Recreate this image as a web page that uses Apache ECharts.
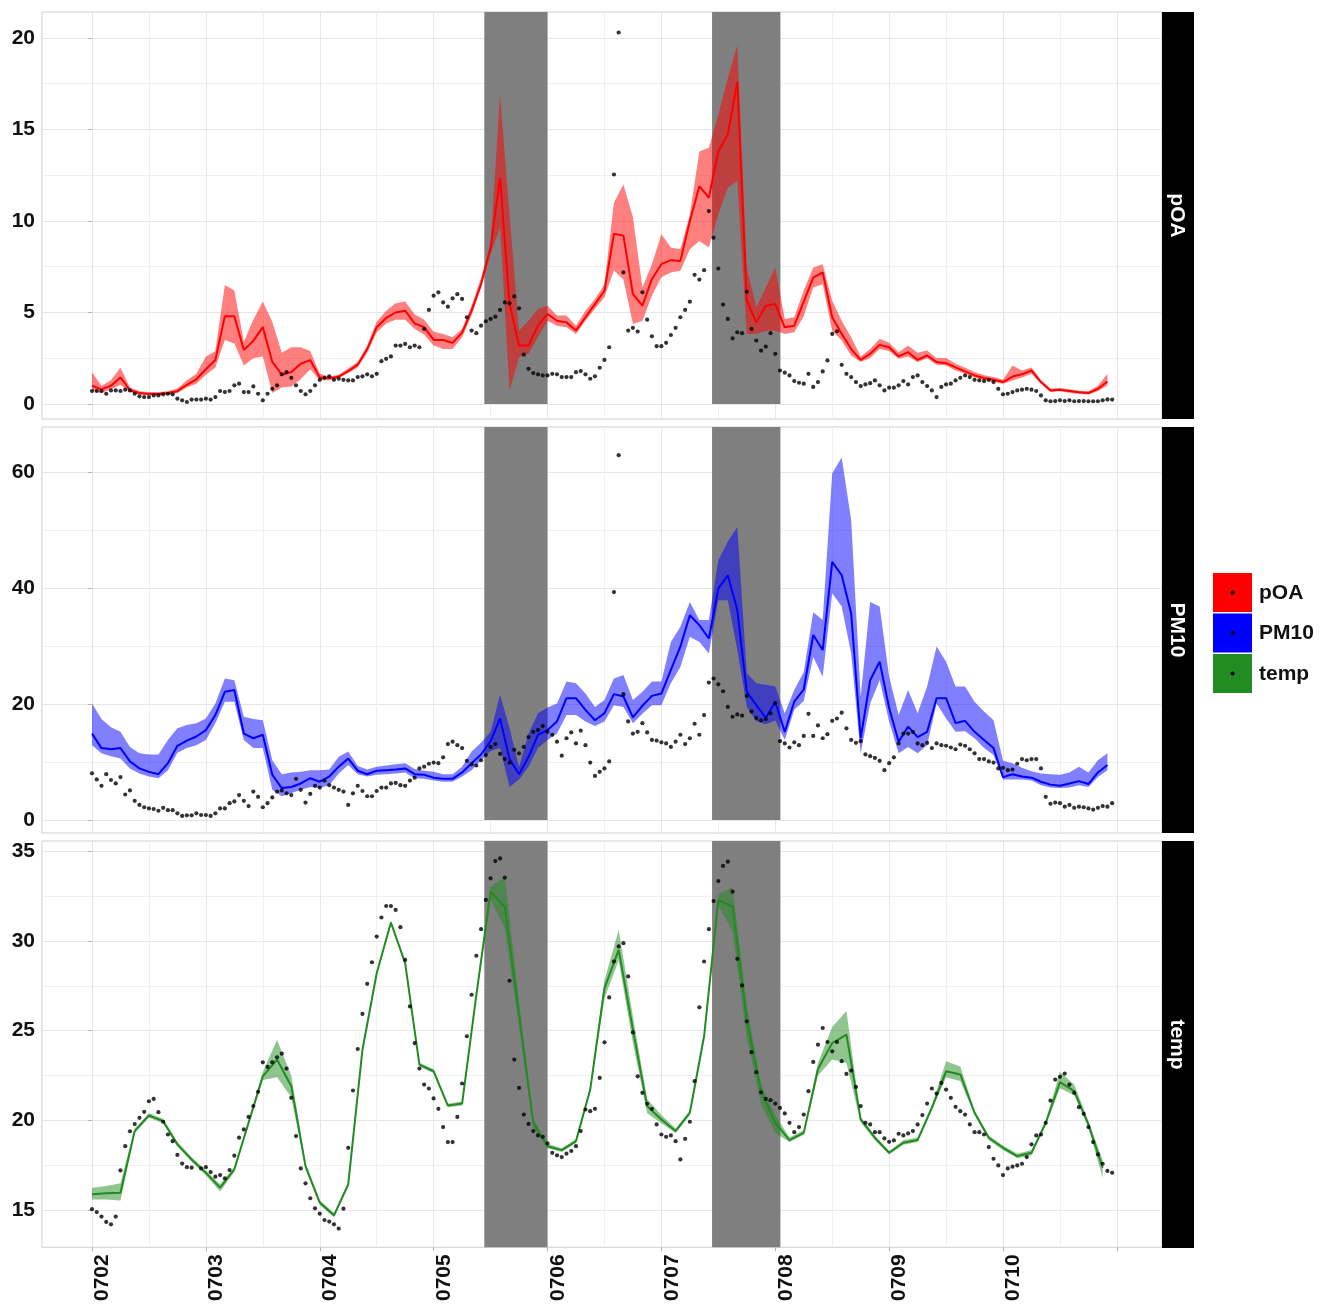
<!DOCTYPE html>
<html>
<head>
<meta charset="utf-8">
<script src="https://cdn.jsdelivr.net/npm/echarts@6.0.0/dist/echarts.min.js"></script>
<style>
  html, body { margin: 0; padding: 0; background: #fff; }
  #chart { width: 1320px; height: 1304px; }
</style>
</head>
<body>
<div id="chart"></div>
<script>
// x labels (day 0 = 0702) and the two shaded periods, in days
const dayLabels = ['0702', '0703', '0704', '0705', '0706', '0707', '0708', '0709', '0710'];
const shadeSpans = [[3.445, 4.0], [5.445, 6.045]];

// y tick labels per panel
const poaTicks = [0, 5, 10, 15, 20];
const pm10Ticks = [0, 20, 40, 60];
const tempTicks = [15, 20, 25, 30, 35];

// hourly observations (null = missing)
const poaDots = [
  0.71, 0.71, 0.71, 0.56, 0.74, 0.74, 0.71, 0.78, 0.74, 0.56,
  0.42, 0.38, 0.38, 0.47, 0.47, 0.53, 0.56, 0.53, 0.29, 0.2,
  0.11, 0.24, 0.24, 0.24, 0.29, 0.24, 0.38, 0.71, 0.65, 0.71,
  1.02, 1.11, 0.65, 0.65, 0.96, 0.56, 0.2, 0.56, 0.83, 1.02,
  1.62, 1.74, 1.43, 1.02, 0.71, 0.53, 0.71, 1.02, 1.32, 1.43,
  1.51, 1.32, 1.38, 1.32, 1.29, 1.29, 1.47, 1.51, 1.62, 1.51,
  1.65, 2.34, 2.47, 2.6, 3.19, 3.19, 3.28, 3.1, 3.19, 3.1,
  4.1, 5.14, 5.92, 6.1, 5.55, 5.32, 5.77, 6.0, 5.74, 4.74,
  4.01, 3.87, 4.28, 4.52, 4.65, 4.77, 5.14, 5.55, 5.5, 5.88,
  5.23, 2.7, 1.92, 1.69, 1.62, 1.56, 1.56, 1.65, 1.62, 1.47,
  1.47, 1.47, 1.74, 1.8, 1.62, 1.38, 1.51, 1.98, 2.41, 3.1,
  12.54, 20.3, 7.19, 4.01, 4.16, 3.96, 6.1, 4.61, 3.7, 3.16,
  3.16, 3.34, 3.77, 4.16, 4.74, 5.14, 5.59, 7.06, 6.8, 7.31,
  10.54, 9.09, 7.4, 5.43, 4.65, 3.59, 3.92, 3.87, 6.13, 4.1,
  3.47, 2.92, 3.14, 3.87, 2.74, 1.83, 1.71, 1.56, 1.25, 1.16,
  1.11, 1.65, 0.93, 1.2, 1.78, 2.38, 3.83, 3.97, 2.14, 1.65,
  1.47, 1.2, 0.98, 1.07, 1.14, 1.29, 1.02, 0.74, 0.89, 0.89,
  1.02, 1.25, 1.07, 1.47, 1.56, 1.2, 0.98, 0.74, 0.38, 0.93,
  1.07, 1.11, 1.29, 1.43, 1.56, 1.47, 1.32, 1.29, 1.25, 1.32,
  1.2, 0.83, 0.53, 0.56, 0.65, 0.74, 0.78, 0.83, 0.78, 0.71,
  0.47, 0.2, 0.15, 0.16, 0.2, 0.16, 0.2, 0.15, 0.16, 0.16,
  0.15, 0.15, 0.15, 0.2, 0.25, 0.24
];
const pm10Dots = [
  8.05, 7.0, 5.9, 7.9, 6.9, 6.3, 7.4, 4.4, 5.1, 3.3,
  2.6, 2.2, 2.0, 1.9, 1.6, 2.1, 1.7, 1.7, 1.15, 0.7,
  0.8, 0.8, 1.15, 0.86, 0.86, 0.7, 1.15, 2.0, 2.0, 2.9,
  3.2, 4.3, 3.3, 2.4, 4.9, 4.0, 2.2, 2.9, 3.9, 4.9,
  5.1, 4.6, 4.3, 7.1, 5.2, 3.0, 4.5, 5.9, 5.6, 6.8,
  6.0, 5.6, 5.2, 4.9, 2.6, 4.6, 5.9, 5.0, 4.1, 4.1,
  5.0, 5.6, 5.6, 6.3, 6.4, 6.0, 5.9, 6.8, 7.3, 8.9,
  9.2, 9.7, 9.9, 9.8, 10.8, 13.1, 13.5, 12.9, 12.4, 10.2,
  9.6, 9.4, 10.3, 11.2, 12.6, 13.1, 11.4, 10.5, 9.9, 12.1,
  11.5, 12.6, 14.3, 15.2, 15.5, 16.2, 15.2, 14.7, 13.5, 11.1,
  14.1, 15.1, 13.2, 15.4, 12.9, 9.9, 7.6, 8.3, 8.9, 10.1,
  39.3, 62.9, 21.7, 17.0, 14.9, 15.2, 16.7, 15.1, 13.8, 13.7,
  13.4, 13.2, 12.6, 13.5, 14.7, 13.1, 14.1, 16.6, 14.7, 18.1,
  23.7, 24.4, 23.4, 22.2, 19.5, 17.8, 18.2, 18.0, 21.4, 18.7,
  17.6, 17.2, 17.4, 18.4, 20.1, 13.6, 13.2, 12.5, 13.4, 12.9,
  14.5, 18.3, 14.5, 16.3, 14.1, 14.8, 17.1, 17.5, 18.5, 15.8,
  13.8, 13.3, 13.6, 11.3, 11.0, 10.7, 10.2, 8.6, 9.8, 10.8,
  13.2, 14.9, 14.9, 15.2, 13.2, 12.9, 13.3, 12.4, 13.2, 12.9,
  12.8, 12.5, 12.2, 13.0, 12.8, 12.2, 11.5, 10.5, 10.5, 10.1,
  9.9, 8.9, 9.0, 8.6, 8.7, 9.7, 10.5, 10.3, 10.5, 10.5,
  8.9, 4.0, 2.8, 3.0, 2.9, 2.3, 2.6, 2.1, 2.3, 2.2,
  2.0, 1.8, 2.1, 2.4, 2.3, 2.9
];
const tempDots = [
  15.06, 14.9, 14.65, 14.35, 14.22, 14.65, 17.22, 18.57, 19.4, 19.8,
  20.15, 20.48, 21.07, 21.2, 20.46, 19.93, 19.22, 18.85, 18.08, 17.6,
  17.4, 17.37, null, 17.33, 17.4, 17.13, 16.87, 16.96, 16.78, 17.24,
  18.04, 19.04, 19.5, 20.2, 20.8, 21.6, 23.24, 22.98, 23.24, 23.52,
  23.72, 22.89, 21.26, 19.13, 17.33, 16.5, 15.67, 15.11, 14.81, 14.46,
  14.37, 14.22, 13.98, 15.09, 18.48, 21.67, 23.98, 25.93, 27.61, 28.81,
  30.24, 31.3, 31.94, 31.94, 31.72, 30.76, 28.94, 26.35, 24.31, 22.89,
  22.0, 21.78, 21.23, 20.65, 19.63, 18.8, 18.8, 20.2, 22.06, 24.69,
  27.0, 29.17, 30.65, 32.28, 33.48, 34.44, 34.59, 33.52, 27.78, 23.39,
  21.81, 20.33, 19.81, 19.41, 19.17, 19.09, 18.72, 18.2, 18.06, 17.96,
  18.15, 18.3, 18.57, 19.41, 20.61, 20.52, 20.65, 22.37, 24.35, 26.85,
  28.85, 29.69, 29.87, 28.02, 24.91, 22.46, 21.54, 20.93, 20.65, 19.78,
  19.22, 19.09, 19.17, 18.85, 17.83, 18.98, 19.93, 22.19, 26.3, 28.85,
  30.65, 32.22, 33.33, 34.17, 34.41, 32.74, 29.0, 27.52, 25.52, 23.8,
  22.69, 21.57, 21.2, 21.13, 20.94, 20.7, 20.39, 19.87, 19.35, 19.63,
  20.33, 21.63, 23.26, 24.22, 25.15, 24.37, 23.85, 24.37, 23.3, 22.59,
  22.78, 21.87, 20.8, 19.87, 19.78, 19.35, 19.35, 19.0, 18.81, 18.89,
  19.26, 19.17, 19.28, 19.41, 19.78, 20.3, 20.94, 21.78, 21.5, 22.09,
  21.72, 21.26, 20.76, 20.52, 20.33, 19.78, 19.35, 19.35, 19.22, 18.52,
  17.87, 17.5, 16.96, 17.33, 17.43, 17.5, 17.59, 17.96, 18.67, 19.17,
  19.22, 19.87, 21.11, 22.28, 22.43, 22.61, 22.0, 21.54, 20.74, 20.37,
  19.63, 18.8, 18.11, 17.59, 17.19, 17.09
];

// model fit every 2 hours (pOA, PM10) and every 3 hours (temp)
const poaMean = [
  1.0, 0.8, 1.0, 1.45, 0.75, 0.6, 0.55, 0.55, 0.6, 0.7,
  1.05, 1.35, 1.9, 2.4, 4.8, 4.8, 2.95, 3.45, 4.2, 2.3,
  1.6, 1.75, 2.2, 2.4, 1.45, 1.4, 1.5, 1.8, 2.15, 3.0,
  4.2, 4.7, 5.0, 5.1, 4.4, 4.2, 3.5, 3.5, 3.34, 3.9,
  5.1, 6.55, 8.55, 12.36, 5.46, 3.19, 3.2, 4.28, 4.92, 4.55,
  4.46, 4.01, 4.74, 5.46, 6.19, 9.3, 9.2, 6.0, 5.37, 6.82,
  7.64, 7.86, 7.82, 10.0, 11.9, 11.27, 13.81, 14.72, 17.6, 5.64,
  4.46, 5.37, 5.46, 4.19, 4.28, 5.6, 6.9, 7.19, 4.74, 3.83,
  3.0, 2.41, 2.74, 3.23, 3.1, 2.6, 2.83, 2.41, 2.65, 2.29,
  2.23, 2.0, 1.78, 1.56, 1.42, 1.32, 1.2, 1.5, 1.62, 1.83,
  1.2, 0.74, 0.78, 0.71, 0.64, 0.6, 0.83, 1.23
];
const poaHigh = [
  1.74, 1.0, 1.3, 2.0, 0.9, 0.7, 0.65, 0.65, 0.7, 0.85,
  1.3, 1.65, 2.6, 2.9, 6.5, 6.2, 3.4, 4.6, 5.6, 4.5,
  2.8, 3.1, 3.1, 2.9, 1.65, 1.5, 1.6, 1.95, 2.3, 3.2,
  4.5, 5.1, 5.5, 5.6, 4.9, 4.6, 3.95, 3.83, 3.65, 4.1,
  5.37, 6.9, 8.73, 16.9, 10.36, 4.0, 4.55, 5.19, 5.37, 4.83,
  4.83, 4.28, 5.1, 5.74, 6.55, 11.0, 12.0, 10.2, 6.37, 7.64,
  9.27, 8.55, 8.46, 10.36, 13.8, 14.0, 15.8, 17.8, 19.6, 7.46,
  5.28, 6.37, 7.46, 4.65, 4.74, 6.2, 7.46, 7.64, 5.64, 4.55,
  3.65, 2.6, 3.0, 3.56, 3.35, 2.83, 3.19, 2.8, 2.92, 2.5,
  2.52, 2.2, 1.98, 1.75, 1.57, 1.47, 1.33, 2.1, 1.83, 2.0,
  1.3, 0.85, 0.87, 0.8, 0.73, 0.7, 1.0, 1.65
];
const poaLow = [
  0.74, 0.6, 0.8, 1.05, 0.65, 0.5, 0.48, 0.48, 0.5, 0.6,
  0.9, 1.1, 1.6, 2.0, 3.5, 3.3, 2.1, 2.5, 2.6, 0.6,
  0.9, 0.95, 1.35, 1.9, 1.3, 1.3, 1.4, 1.7, 2.0, 2.8,
  3.9, 4.4, 4.6, 4.6, 4.1, 3.8, 3.2, 3.0, 3.0, 3.65,
  4.83, 6.37, 8.18, 9.64, 0.74, 2.56, 2.74, 3.65, 4.55, 4.28,
  4.2, 3.83, 4.55, 5.2, 5.83, 7.3, 6.8, 4.37, 4.55, 5.92,
  6.92, 7.19, 7.28, 8.46, 8.91, 8.55, 10.36, 11.8, 12.2, 3.83,
  3.83, 4.0, 4.0, 3.83, 3.92, 4.8, 6.37, 6.55, 4.0, 3.47,
  2.65, 2.29, 2.52, 3.0, 2.9, 2.47, 2.6, 2.3, 2.5, 2.15,
  2.1, 1.83, 1.65, 1.45, 1.3, 1.2, 1.1, 1.29, 1.45, 1.65,
  1.1, 0.65, 0.7, 0.62, 0.55, 0.52, 0.7, 1.02
];
const pm10Mean = [
  14.9, 12.4, 12.2, 12.4, 10.1, 8.9, 8.3, 7.9, 9.8, 12.8,
  13.7, 14.4, 15.5, 18.1, 22.1, 22.4, 14.9, 14.1, 14.7, 7.8,
  5.5, 5.7, 6.3, 7.2, 6.6, 7.5, 9.2, 10.6, 8.5, 7.9,
  8.5, 8.6, 8.7, 8.9, 7.9, 7.8, 7.3, 7.1, 7.1, 8.2,
  9.8, 11.3, 13.6, 17.5, 10.5, 7.9, 10.9, 14.7, 15.5, 17.0,
  21.0, 21.0, 19.0, 17.2, 18.4, 21.7, 21.3, 17.7, 19.7, 21.4,
  21.8, 25.9, 29.9, 35.3, 33.6, 31.3, 39.9, 42.2, 36.2, 22.1,
  19.8, 17.6, 20.4, 15.2, 20.4, 22.5, 31.9, 29.3, 44.5, 42.2,
  35.6, 14.1, 24.1, 27.3, 19.3, 13.5, 16.1, 14.3, 15.2, 21.0,
  21.0, 16.7, 17.1, 15.2, 13.8, 12.4, 7.4, 7.9, 7.5, 7.3,
  6.6, 6.1, 5.9, 6.3, 6.7, 6.2, 8.2, 9.5
];
const pm10High = [
  20.1, 17.4, 16.0, 15.2, 12.6, 11.5, 11.3, 11.3, 13.8, 15.8,
  16.4, 16.7, 17.5, 20.1, 24.4, 24.1, 17.8, 17.4, 17.2, 10.3,
  7.9, 8.2, 8.3, 8.6, 8.6, 8.7, 10.9, 11.8, 9.3, 8.7,
  9.2, 9.4, 9.6, 9.8, 8.8, 8.5, 8.3, 7.9, 7.9, 9.2,
  11.8, 13.3, 15.2, 21.6, 15.8, 9.2, 14.9, 18.4, 19.4, 20.1,
  23.9, 23.6, 21.8, 19.5, 20.7, 24.4, 25.0, 20.7, 22.1, 23.9,
  23.9, 30.7, 33.3, 37.6, 34.5, 34.5, 44.8, 48.0, 50.5, 25.3,
  23.6, 23.3, 23.0, 18.4, 22.4, 25.5, 35.8, 34.5, 59.8, 62.5,
  51.7, 21.3, 37.6, 36.8, 24.7, 18.1, 22.4, 18.4, 23.0, 29.9,
  27.3, 23.0, 23.0, 20.4, 18.7, 17.2, 10.2, 9.8, 9.0, 8.4,
  8.0, 7.9, 7.8, 8.2, 9.2, 8.2, 10.3, 11.5
];
const pm10Low = [
  12.9, 11.5, 11.0, 10.6, 8.9, 8.0, 7.5, 7.2, 8.6, 11.6,
  12.4, 12.9, 13.8, 16.7, 20.4, 20.4, 13.8, 12.4, 12.4, 5.2,
  4.1, 4.6, 5.2, 5.7, 5.5, 6.0, 8.0, 9.5, 7.9, 7.5,
  7.8, 7.9, 8.0, 8.2, 7.2, 7.1, 6.8, 6.6, 6.6, 7.5,
  8.6, 10.3, 11.9, 12.4, 5.7, 7.0, 9.2, 12.4, 13.8, 14.9,
  18.1, 18.1, 17.0, 16.2, 17.0, 19.8, 19.5, 16.7, 18.3, 19.8,
  19.8, 23.6, 26.4, 31.6, 30.7, 28.7, 37.9, 37.9, 29.3, 19.5,
  17.0, 16.5, 17.2, 13.8, 19.0, 20.5, 28.1, 24.7, 39.1, 36.8,
  28.7, 11.5, 20.1, 24.1, 17.0, 11.5, 12.6, 11.5, 12.9, 20.1,
  17.5, 15.2, 15.3, 14.1, 12.4, 11.2, 7.0, 7.0, 7.0, 6.8,
  6.0, 5.6, 5.5, 5.6, 6.0, 5.7, 7.4, 8.6
];
const tempMean = [
  15.89, 15.95, 15.98, 19.41, 20.28, 19.96, 18.67, 17.83, 17.09, 16.26,
  17.28, 19.87, 22.46, 23.39, 21.91, 17.46, 15.43, 14.72, 16.44, 23.94,
  28.2, 31.02, 28.76, 23.11, 22.74, 20.83, 20.94, 26.98, 32.74, 31.9,
  25.9, 19.87, 18.57, 18.35, 18.85, 21.72, 27.37, 29.5, 25.06, 20.8,
  20.06, 19.41, 20.43, 24.69, 32.28, 31.9, 25.61, 21.63, 19.87, 18.91,
  19.31, 22.87, 24.31, 24.78, 20.06, 19.04, 18.2, 18.76, 18.91, 20.7,
  22.74, 22.56, 20.43, 19.04, 18.48, 18.02, 18.2, 19.87, 22.13, 21.63,
  19.78, 17.37
];
const tempHigh = [
  16.25, 16.35, 16.5, 19.55, 20.4, 20.1, 18.8, 17.95, 17.2, 16.45,
  17.4, 20.0, 22.7, 24.5, 22.5, 17.6, 15.55, 14.85, 16.55, 24.05,
  28.3, 31.12, 28.88, 23.22, 22.85, 20.93, 21.05, 27.1, 33.0, 33.6,
  26.6, 20.1, 18.7, 18.45, 18.95, 21.85, 27.8, 30.6, 25.8, 21.2,
  20.3, 19.55, 20.55, 24.85, 32.6, 33.0, 26.4, 22.0, 20.3, 19.05,
  19.45, 23.2, 25.2, 26.1, 20.2, 19.15, 18.3, 18.9, 19.05, 20.85,
  23.3, 23.0, 20.55, 19.15, 18.6, 18.15, 18.35, 20.0, 22.7, 22.0,
  19.95, 17.8
];
const tempLow = [
  15.6, 15.6, 15.55, 19.3, 20.15, 19.85, 18.55, 17.7, 16.95, 16.05,
  17.15, 19.75, 22.25, 22.4, 21.3, 17.3, 15.3, 14.6, 16.3, 23.8,
  28.1, 30.9, 28.65, 23.0, 22.63, 20.73, 20.83, 26.85, 32.3, 30.7,
  25.2, 19.6, 18.45, 18.25, 18.75, 21.6, 26.8, 28.9, 24.3, 20.4,
  19.85, 19.3, 20.3, 24.5, 32.0, 30.5, 24.6, 20.9, 19.3, 18.8,
  19.2, 22.5, 23.4, 23.2, 19.9, 18.9, 18.1, 18.65, 18.8, 20.6,
  22.4, 22.2, 20.3, 18.9, 18.35, 17.9, 18.05, 19.75, 21.8, 21.4,
  19.6, 16.8
];

// layout
const X_MIN = -0.439, X_MAX = 9.396;
const PLOT_LEFT = 42, PLOT_WIDTH = 1120, STRIP_WIDTH = 32;
const FONT = '"Liberation Sans", Arial, Helvetica, sans-serif';
const gridDays = [0, 1, 2, 3, 4, 5, 6, 7, 8, 9];
const halfDays = gridDays.slice(0, -1).map(d => d + 0.5);
const midpoints = t => t.slice(0, -1).map((v, i) => (v + t[i + 1]) / 2);

const panels = [
  { name: 'pOA', line: '#ff0000', fill: 'rgba(255,0,0,0.5)', key: '#ff0000',
    mean: poaMean, low: poaLow, high: poaHigh, dots: poaDots, step: 2,
    ticks: poaTicks, top: 12, height: 407, yMin: -0.82, yMax: 21.42, shadeFrom: 0 },
  { name: 'PM10', line: '#0000ff', fill: 'rgba(0,0,255,0.5)', key: '#0000ff',
    mean: pm10Mean, low: pm10Low, high: pm10High, dots: pm10Dots, step: 2,
    ticks: pm10Ticks, top: 427, height: 406, yMin: -2.24, yMax: 67.76, shadeFrom: 0 },
  { name: 'temp', line: '#228b22', fill: 'rgba(34,139,34,0.5)', key: '#228b22',
    mean: tempMean, low: tempLow, high: tempHigh, dots: tempDots, step: 3,
    ticks: tempTicks, top: 841, height: 407, yMin: 12.94, yMax: 35.56, shadeFrom: 12.94 }
];

const grid = [], xAxis = [], yAxis = [], series = [], graphic = [];
const last = panels.length - 1;

panels.forEach((p, g) => {
  grid.push({ left: PLOT_LEFT, top: p.top, width: PLOT_WIDTH, height: p.height,
    show: true, borderColor: '#cfcfcf', borderWidth: 1 });
  xAxis.push({
    gridIndex: g, type: 'value', min: X_MIN, max: X_MAX, position: 'bottom',
    axisLine: { show: false },
    axisTick: { show: g === last, customValues: gridDays, length: 4, lineStyle: { color: '#b3b3b3' } },
    axisLabel: {
      show: g === last, customValues: dayLabels.map((_, i) => i),
      formatter: v => dayLabels[Math.round(v)],
      rotate: 90, align: 'right', verticalAlign: 'top', margin: 7,
      fontSize: 21, fontWeight: 'bold', fontFamily: FONT, color: '#111'
    },
    splitLine: { show: true, lineStyle: { color: '#e6e6e6', width: 1 } }
  });
  yAxis.push({
    gridIndex: g, type: 'value', min: p.yMin, max: p.yMax, position: 'left',
    axisLine: { show: false },
    axisTick: { show: true, customValues: p.ticks, length: 4, lineStyle: { color: '#b3b3b3' } },
    axisLabel: { customValues: p.ticks, margin: 7, fontSize: 21, fontWeight: 'bold', fontFamily: FONT, color: '#111' },
    splitLine: { show: true, lineStyle: { color: '#e6e6e6', width: 1 } }
  });
});

// minor grid lines on hidden companion axes
panels.forEach((p, g) => {
  xAxis.push({
    gridIndex: g, type: 'value', min: X_MIN, max: X_MAX, position: 'top',
    axisLine: { show: false }, axisLabel: { show: false },
    axisTick: { show: false, customValues: halfDays },
    splitLine: { show: true, lineStyle: { color: '#f0f0f0', width: 1 } }
  });
  yAxis.push({
    gridIndex: g, type: 'value', min: p.yMin, max: p.yMax, position: 'right',
    axisLine: { show: false }, axisLabel: { show: false },
    axisTick: { show: false, customValues: midpoints(p.ticks) },
    splitLine: { show: true, lineStyle: { color: '#f0f0f0', width: 1 } }
  });
});

panels.forEach((p, g) => {
  const toDay = k => k * p.step / 24;
  const band = p.mean.map((_, k) => [toDay(k), p.low[k], p.high[k]]);

  series.push({
    type: 'custom', name: p.name + ' band', xAxisIndex: g, yAxisIndex: g, z: 3, silent: true,
    data: band, encode: { x: 0, y: [1, 2] },
    renderItem: (params, api) => {
      if (params.dataIndex !== 0) return null;
      const upper = band.map(d => api.coord([d[0], d[2]]));
      const lower = band.map(d => api.coord([d[0], d[1]])).reverse();
      return { type: 'polygon', shape: { points: upper.concat(lower) }, style: { fill: p.fill } };
    }
  });

  series.push({
    type: 'line', name: p.name, xAxisIndex: g, yAxisIndex: g, z: 4, silent: true,
    symbol: 'none', showSymbol: false,
    data: p.mean.map((v, k) => [toDay(k), v]),
    lineStyle: { color: p.line, width: 2 }, itemStyle: { color: p.line },
    markArea: {
      silent: true, itemStyle: { color: '#7f7f7f', opacity: 1 },
      data: shadeSpans.map(s => [{ xAxis: s[0], yAxis: p.shadeFrom }, { xAxis: s[1], yAxis: p.yMax }])
    }
  });

  series.push({
    type: 'scatter', name: p.name + ' obs', xAxisIndex: g, yAxisIndex: g, z: 5, silent: true,
    symbolSize: 4.2, itemStyle: { color: '#000' },
    data: p.dots.map((v, i) => (v == null ? null : [i / 24, v])).filter(d => d)
  });

  // facet strip on the right
  graphic.push({
    type: 'rect', silent: true,
    shape: { x: PLOT_LEFT + PLOT_WIDTH, y: p.top, width: STRIP_WIDTH, height: p.height },
    style: { fill: '#000' }
  });
  graphic.push({
    type: 'text', silent: true,
    x: PLOT_LEFT + PLOT_WIDTH + STRIP_WIDTH / 2 - 1, y: p.top + p.height / 2,
    rotation: -Math.PI / 2,
    style: { text: p.name, fill: '#fff', font: 'bold 21px ' + FONT, align: 'center', verticalAlign: 'middle' }
  });

  // legend key
  const ky = 573 + g * 40.5;
  graphic.push({
    type: 'rect', silent: true,
    shape: { x: 1213, y: ky, width: 39, height: 39 },
    style: { fill: p.key }
  });
  graphic.push({
    type: 'circle', silent: true,
    shape: { cx: 1232.5, cy: ky + 19.5, r: 2 },
    style: { fill: '#000' }
  });
  graphic.push({
    type: 'text', silent: true, x: 1259, y: ky + 20,
    style: { text: p.name, fill: '#111', font: 'bold 21px ' + FONT, align: 'left', verticalAlign: 'middle' }
  });
});

const chart = echarts.init(document.getElementById('chart'));
chart.setOption({
  backgroundColor: '#ffffff',
  animation: false,
  grid: grid,
  xAxis: xAxis,
  yAxis: yAxis,
  series: series,
  graphic: graphic
});
</script>
</body>
</html>
